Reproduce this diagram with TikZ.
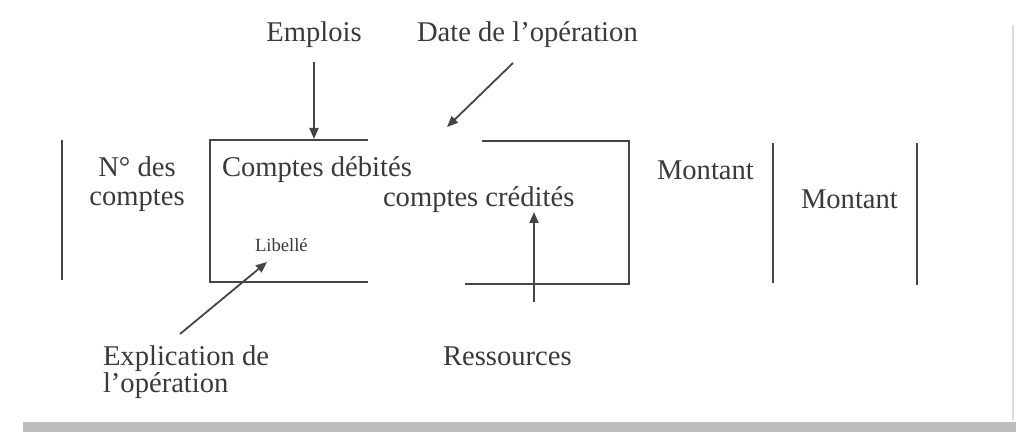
\documentclass[tikz,border=0pt]{standalone}
\usepackage{fontspec}
\setmainfont{Liberation Serif}
\usetikzlibrary{arrows.meta}
\definecolor{ink}{HTML}{3A3A3A}
\definecolor{linec}{HTML}{454545}
\definecolor{band}{HTML}{BDBDBD}
\definecolor{edge}{HTML}{DADADA}
\begin{document}
\begin{tikzpicture}[x=0.5pt,y=-0.5pt,
  lbl/.style={inner sep=0pt,outer sep=0pt,text=ink,font=\fontsize{14.3}{17}\selectfont},
  small/.style={inner sep=0pt,outer sep=0pt,text=ink,font=\fontsize{9.3}{11}\selectfont},
  rule/.style={draw=linec,line width=1pt},
  pointer/.style={draw=linec,line width=0.9pt,-{Triangle[length=5.5pt,width=4.5pt]}}]
\useasboundingbox (0,0) rectangle (1016,432);
% page artefacts
\fill[band] (23,422) rectangle (1016,432);
\draw[edge,line width=0.8pt] (1013,25) -- (1013,420);
% labels
\node[lbl,anchor=base] (emplois) at (314,42) {Emplois};
\node[lbl,anchor=base west] (date) at (417,42) {Date de l’opération};
\node[lbl,anchor=base] (num1) at (137,177) {N° des};
\node[lbl,anchor=base] (num2) at (137,206) {comptes};
\node[lbl,anchor=base west] (debit) at (222,177) {Comptes débités};
\node[lbl,anchor=base west] (credit) at (383,207) {comptes crédités};
\node[small,anchor=base west] (libelle) at (255,252) {Libellé};
\node[lbl,anchor=base west] (mont1) at (657,180) {Montant};
\node[lbl,anchor=base west] (mont2) at (801,209) {Montant};
\node[lbl,anchor=base west] (expl1) at (103,365) {Explication de};
\node[lbl,anchor=base west] (expl2) at (103,393) {l’opération};
\node[lbl,anchor=base west] (ress) at (443,365) {Ressources};
% vertical rules
\coordinate (v1a) at (62,140); \coordinate (v1b) at (62,280);
\coordinate (v2a) at (773,143); \coordinate (v2b) at (773,283);
\coordinate (v3a) at (917,143); \coordinate (v3b) at (917,285);
\draw[rule] (v1a) -- (v1b);
\draw[rule] (v2a) -- (v2b);
\draw[rule] (v3a) -- (v3b);
% box halves
\coordinate (bl1) at (368,140); \coordinate (bl2) at (210,140);
\coordinate (bl3) at (210,282); \coordinate (bl4) at (368,282);
\coordinate (br1) at (482,141); \coordinate (br2) at (629,141);
\coordinate (br3) at (629,284); \coordinate (br4) at (465,284);
\draw[rule] (bl1) -- (bl2) -- (bl3) -- (bl4);
\draw[rule] (br1) -- (br2) -- (br3) -- (br4);
% arrows
\coordinate (e1) at (314,62);  \coordinate (e2) at (314,139);
\coordinate (d1) at (513,63);  \coordinate (d2) at (447,127);
\coordinate (l1) at (180,334); \coordinate (l2) at (267,262);
\coordinate (r1) at (534,302); \coordinate (r2) at (534,212);
\draw[pointer] (e1) -- (e2);
\draw[pointer] (d1) -- (d2);
\draw[pointer] (l1) -- (l2);
\draw[pointer] (r1) -- (r2);
\end{tikzpicture}
\end{document}
